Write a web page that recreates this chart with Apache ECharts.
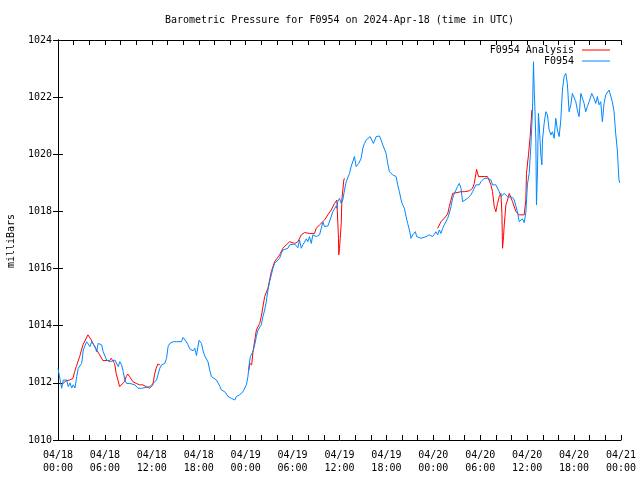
<!DOCTYPE html>
<html>
<head>
<meta charset="utf-8">
<script src="https://cdn.jsdelivr.net/npm/echarts@6/dist/echarts.min.js"></script>
<style>html,body{margin:0;padding:0;background:#fff}#c{width:640px;height:480px}</style>
</head>
<body>
<div id="c"></div>
<script>
var titleText = 'Barometric Pressure for F0954 on 2024-Apr-18 (time in UTC)';
var yAxisName = 'milliBars';
var seriesNames = ['F0954 Analysis', 'F0954'];
var xTickLabels = ['04/18\n00:00','04/18\n06:00','04/18\n12:00','04/18\n18:00','04/19\n00:00','04/19\n06:00','04/19\n12:00','04/19\n18:00','04/20\n00:00','04/20\n06:00','04/20\n12:00','04/20\n18:00','04/21\n00:00'];

// hours since 04/18 00:00 UTC
var blueHours = [0.0,0.47,0.68,1.11,1.31,1.53,1.75,1.95,2.17,2.39,2.59,3.03,3.23,3.66,3.87,4.09,4.30,4.72,4.94,5.14,5.58,5.78,6.22,6.42,6.64,6.86,7.28,7.49,7.70,7.91,8.13,8.34,8.55,8.77,9.19,9.83,10.25,10.69,10.89,11.74,11.96,12.17,12.60,13.02,13.24,13.66,13.88,14.08,14.30,14.72,14.94,15.15,15.79,16.00,16.21,16.43,16.63,16.85,17.07,17.27,17.49,17.71,17.91,18.04,18.35,18.55,18.77,19.19,19.40,19.62,19.82,20.26,20.46,20.68,20.90,21.32,21.54,21.74,21.96,22.17,22.60,22.81,23.23,23.66,24.09,24.29,24.42,24.60,24.93,25.15,25.37,25.57,26.00,26.21,26.43,26.64,26.85,27.06,27.28,27.49,27.70,27.92,28.34,28.56,28.76,28.98,29.40,29.62,29.83,30.26,30.47,30.68,30.89,31.11,31.32,31.53,31.75,31.95,32.17,32.39,32.59,32.81,33.03,33.23,33.45,33.66,33.87,34.09,34.30,34.51,34.72,34.94,35.15,35.36,35.58,35.66,35.78,36.00,36.22,36.42,36.64,36.86,37.28,37.49,37.91,38.13,38.46,38.77,38.98,39.19,39.41,39.61,39.92,40.17,40.34,40.69,41.11,41.32,41.53,41.96,42.17,42.38,42.81,43.24,43.44,43.66,43.88,44.08,44.30,44.51,44.72,44.94,45.15,45.36,45.70,45.87,46.09,46.43,46.64,47.07,47.49,47.91,48.34,48.55,48.77,48.98,49.19,49.40,49.62,49.83,50.04,50.26,50.47,50.68,50.90,51.10,51.32,51.54,51.74,51.96,52.38,52.60,52.81,53.02,53.23,53.45,53.66,53.87,54.09,54.30,54.51,54.73,54.93,55.15,55.37,55.57,55.79,56.00,56.21,56.43,56.64,56.85,57.06,57.28,57.49,57.70,58.13,58.34,58.56,58.76,58.98,59.20,59.40,59.62,59.83,60.04,60.26,60.47,60.68,60.81,60.89,60.98,61.11,61.19,61.32,61.44,61.53,61.75,61.88,61.96,62.17,62.39,62.59,62.81,63.03,63.23,63.45,63.66,63.87,64.09,64.30,64.51,64.72,64.94,65.14,65.36,65.58,65.78,66.00,66.22,66.42,66.64,66.86,67.06,67.28,67.49,67.70,67.92,68.26,68.55,68.77,68.98,69.19,69.41,69.62,69.83,70.05,70.25,70.47,70.68,70.89,71.11,71.32,71.53,71.74,71.87];
var bluePressure = [1012.50,1011.81,1012.10,1012.10,1011.87,1012.00,1011.82,1011.93,1011.82,1012.22,1012.51,1012.68,1013.15,1013.44,1013.44,1013.27,1013.44,1013.27,1013.09,1013.38,1013.33,1013.09,1012.80,1012.86,1012.74,1012.80,1012.80,1012.74,1012.57,1012.74,1012.63,1012.39,1012.10,1011.98,1011.98,1011.93,1011.81,1011.81,1011.87,1011.87,1011.81,1011.98,1012.10,1012.51,1012.63,1012.68,1012.86,1013.27,1013.38,1013.44,1013.50,1013.44,1013.44,1013.59,1013.54,1013.43,1013.33,1013.19,1013.21,1013.12,1013.21,1012.96,1012.92,1013.49,1013.38,1013.12,1012.94,1012.73,1012.45,1012.22,1012.21,1012.10,1012.04,1011.89,1011.75,1011.69,1011.61,1011.52,1011.58,1011.46,1011.40,1011.52,1011.58,1011.69,1011.93,1012.22,1012.57,1012.92,1013.09,1013.33,1013.62,1013.85,1014.03,1014.32,1014.55,1014.84,1015.25,1015.54,1015.78,1016.01,1016.18,1016.24,1016.36,1016.53,1016.65,1016.71,1016.71,1016.83,1016.88,1016.86,1016.83,1016.73,1017.00,1016.71,1016.83,1016.93,1017.04,1016.94,1017.12,1016.88,1017.18,1017.18,1017.12,1017.06,1017.18,1017.23,1017.63,1017.47,1017.46,1017.49,1017.56,1017.81,1018.00,1018.09,1018.19,1018.11,1018.34,1018.46,1018.28,1018.40,1018.75,1019.04,1019.33,1019.57,1019.92,1019.57,1019.68,1019.86,1020.21,1020.38,1020.50,1020.44,1020.62,1020.56,1020.38,1020.62,1020.64,1020.50,1020.33,1020.03,1019.68,1019.39,1019.28,1019.22,1018.93,1018.69,1018.40,1018.23,1018.11,1017.82,1017.58,1017.35,1017.06,1017.18,1017.29,1017.12,1017.18,1017.06,1017.02,1017.12,1017.18,1017.12,1017.29,1017.18,1017.35,1017.23,1017.41,1017.53,1017.58,1017.76,1017.93,1018.17,1018.46,1018.63,1018.69,1018.87,1018.98,1018.81,1018.34,1018.40,1018.46,1018.52,1018.58,1018.69,1018.81,1018.93,1018.98,1018.93,1019.04,1018.98,1019.16,1019.22,1019.16,1019.22,1019.10,1018.93,1018.87,1018.93,1018.87,1018.69,1018.52,1018.46,1018.63,1018.58,1018.52,1018.58,1018.49,1018.40,1018.19,1017.98,1017.64,1017.58,1017.74,1017.61,1017.96,1018.96,1019.33,1020.27,1021.49,1023.24,1022.31,1021.67,1020.50,1018.23,1019.45,1021.43,1021.08,1019.98,1019.63,1020.50,1021.08,1021.49,1021.38,1020.85,1020.68,1020.79,1020.56,1021.26,1020.85,1020.62,1021.20,1022.25,1022.72,1022.83,1022.48,1021.49,1021.73,1022.13,1022.08,1021.84,1021.55,1021.32,1022.13,1022.19,1021.78,1021.49,1021.67,1021.84,1022.13,1021.96,1021.78,1022.02,1021.73,1021.84,1021.14,1021.78,1022.08,1022.13,1022.25,1022.19,1021.84,1021.49,1020.73,1020.15,1019.10,1019.00];

var redHours = [0.64,1.02,1.49,1.91,2.13,2.34,2.77,2.97,3.19,3.41,3.83,4.05,4.25,4.69,5.32,5.74,6.60,6.80,7.24,7.44,7.88,8.08,8.51,8.72,8.94,9.15,9.57,10.00,10.43,10.85,11.27,11.71,11.91,12.13,12.34,12.55,12.77,13.02,
  18.0,
  24.42,24.51,24.77,24.93,25.37,25.79,26.00,26.43,26.85,27.28,27.70,28.34,28.76,29.19,29.62,30.26,30.68,31.11,31.53,31.75,32.17,32.81,33.03,33.45,34.09,34.51,34.94,35.36,35.66,35.78,35.87,35.91,36.00,36.09,36.22,36.30,36.42,36.55,36.64,
  42.0,
  48.55,48.98,49.40,49.83,50.04,50.26,50.47,50.68,51.54,51.96,52.60,52.81,53.02,53.23,53.45,53.53,53.78,54.51,54.73,54.93,55.15,55.37,55.57,55.79,56.00,56.21,56.43,56.64,56.77,56.85,56.98,57.06,57.28,57.49,57.70,57.92,58.13,58.56,58.98,59.62,59.83,59.91,60.17,60.38,60.60];
var redPressure = [1011.98,1012.07,1012.10,1012.16,1012.39,1012.57,1012.92,1012.98,1013.33,1013.38,1013.68,1013.64,1013.50,1013.27,1012.98,1012.78,1012.78,1012.86,1012.68,1012.33,1011.87,1011.93,1012.04,1012.22,1012.31,1012.22,1012.04,1011.98,1011.93,1011.93,1011.87,1011.81,1011.75,1011.93,1012.28,1012.51,1012.66,1012.63,
  null,
  1012.45,1012.68,1012.63,1013.08,1013.85,1014.08,1014.32,1015.02,1015.31,1015.89,1016.24,1016.48,1016.71,1016.83,1016.94,1016.88,1016.94,1017.18,1017.26,1017.29,1017.23,1017.23,1017.41,1017.53,1017.70,1017.88,1018.05,1018.28,1018.40,1018.34,1017.06,1016.48,1016.71,1017.06,1017.58,1018.40,1018.46,1019.10,1019.16,
  null,
  1017.41,1017.64,1017.76,1017.91,1018.17,1018.40,1018.63,1018.69,1018.69,1018.69,1018.72,1018.75,1018.81,1018.98,1019.33,1019.47,1019.22,1019.22,1019.28,1019.22,1019.16,1018.93,1018.69,1018.17,1017.99,1018.28,1018.52,1018.63,1017.93,1016.71,1017.12,1017.49,1018.23,1018.40,1018.63,1018.58,1018.34,1017.99,1017.88,1017.88,1018.40,1019.33,1019.98,1020.62,1021.55];

function zip(a, b) { return a.map(function (x, i) { return [x, b[i] === null ? '-' : b[i]]; }); }

var FONT = 'DejaVu Sans Mono';
var chart = echarts.init(document.getElementById('c'), null, {renderer: 'canvas'});
var axisCommon = {
  axisLine: {show: true, lineStyle: {color: '#000', width: 1}},
  axisTick: {show: true, inside: true, length: 5, lineStyle: {color: '#000'}},
  splitLine: {show: false}
};
function xAxisDef(pos, labels) {
  return Object.assign({}, axisCommon, {
    type: 'value', position: pos, min: 0, max: 72, interval: 6,
    minorTick: {show: true, splitNumber: 3, length: 5, lineStyle: {color: '#000'}},
    axisLabel: {show: labels, margin: 9, lineHeight: 13, fontFamily: FONT, fontSize: 10, color: '#000',
      formatter: function (v) { return xTickLabels[Math.round(v / 6)]; }}
  });
}
function yAxisDef(pos, labels) {
  return Object.assign({}, axisCommon, {
    type: 'value', position: pos, min: 1010, max: 1024, interval: 2,
    axisLabel: {show: labels, margin: 6, fontFamily: FONT, fontSize: 10, color: '#000',
      formatter: function (v) { return String(v); }}
  });
}
chart.setOption({
  animation: false,
  backgroundColor: '#fff',
  grid: {left: 58, right: 19, top: 40, bottom: 40},
  xAxis: [xAxisDef('bottom', true), xAxisDef('top', false)],
  yAxis: [yAxisDef('left', true), yAxisDef('right', false)],
  legend: {
    orient: 'vertical', right: 30, top: 45, align: 'right', itemGap: 1,
    itemWidth: 28, itemHeight: 1, icon: 'rect', padding: 0,
    textStyle: {fontFamily: FONT, fontSize: 10, color: '#000', padding: [0, 3, 0, 0]},
    data: seriesNames
  },
  graphic: [
    {type: 'text', x: 339.5, y: 20, style: {text: titleText, font: '10px ' + FONT, fill: '#000', align: 'center', verticalAlign: 'middle'}},
    {type: 'text', x: 11, y: 241, rotation: Math.PI / 2, style: {text: yAxisName, font: '10px ' + FONT, fill: '#000', align: 'center', verticalAlign: 'middle'}}
  ],
  series: [
    {name: seriesNames[0], type: 'line', data: zip(redHours, redPressure), showSymbol: false, connectNulls: false,
      color: '#ff0000', lineStyle: {width: 1, color: '#ff0000'}, z: 2},
    {name: seriesNames[1], type: 'line', data: zip(blueHours, bluePressure), showSymbol: false,
      color: '#0088ff', lineStyle: {width: 1, color: '#0088ff'}, z: 3}
  ]
});
</script>
</body>
</html>
